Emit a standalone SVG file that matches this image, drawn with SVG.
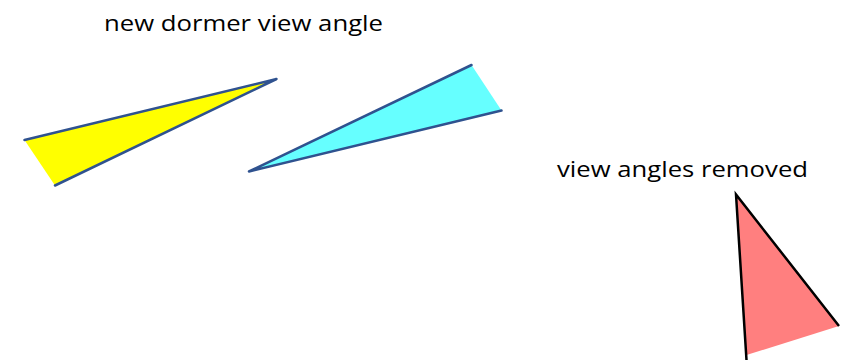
<svg xmlns="http://www.w3.org/2000/svg" width="850" height="360" viewBox="0 0 850 360">
<style>
.lbl{font-family:"Open Sans","Liberation Sans",sans-serif;font-size:21px;fill:#000}
.edge{fill:none;stroke:#2F528F;stroke-width:2.5;stroke-linecap:round;stroke-linejoin:round}
.edgek{fill:none;stroke:#000;stroke-width:2.5;stroke-linejoin:miter}
</style>
<rect width="850" height="360" fill="#fff"/>
<g id="label-new">
<text class="lbl" x="104" y="31" textLength="279" lengthAdjust="spacingAndGlyphs">new dormer view angle</text>
</g>
<g id="label-removed">
<text class="lbl" x="557" y="177" textLength="251" lengthAdjust="spacingAndGlyphs">view angles removed</text>
</g>
<g id="yellow">
<polygon points="24.5,140 276.5,79 55,185.5" fill="#FFFF00"/>
<polyline class="edge" points="24.5,140 276.5,79 55,185.5"/>
</g>
<g id="cyan">
<polygon points="249,171.5 471.5,65 501.5,110.5" fill="#66FFFF"/>
<polyline class="edge" points="471.5,65 249,171.5 501.5,110.5"/>
</g>
<g id="red">
<polygon points="736,194.5 839,326 746.5,355" fill="#FF7F7F"/>
<polyline class="edgek" points="839,326 736,194.5 746.5,360"/>
</g>
</svg>
